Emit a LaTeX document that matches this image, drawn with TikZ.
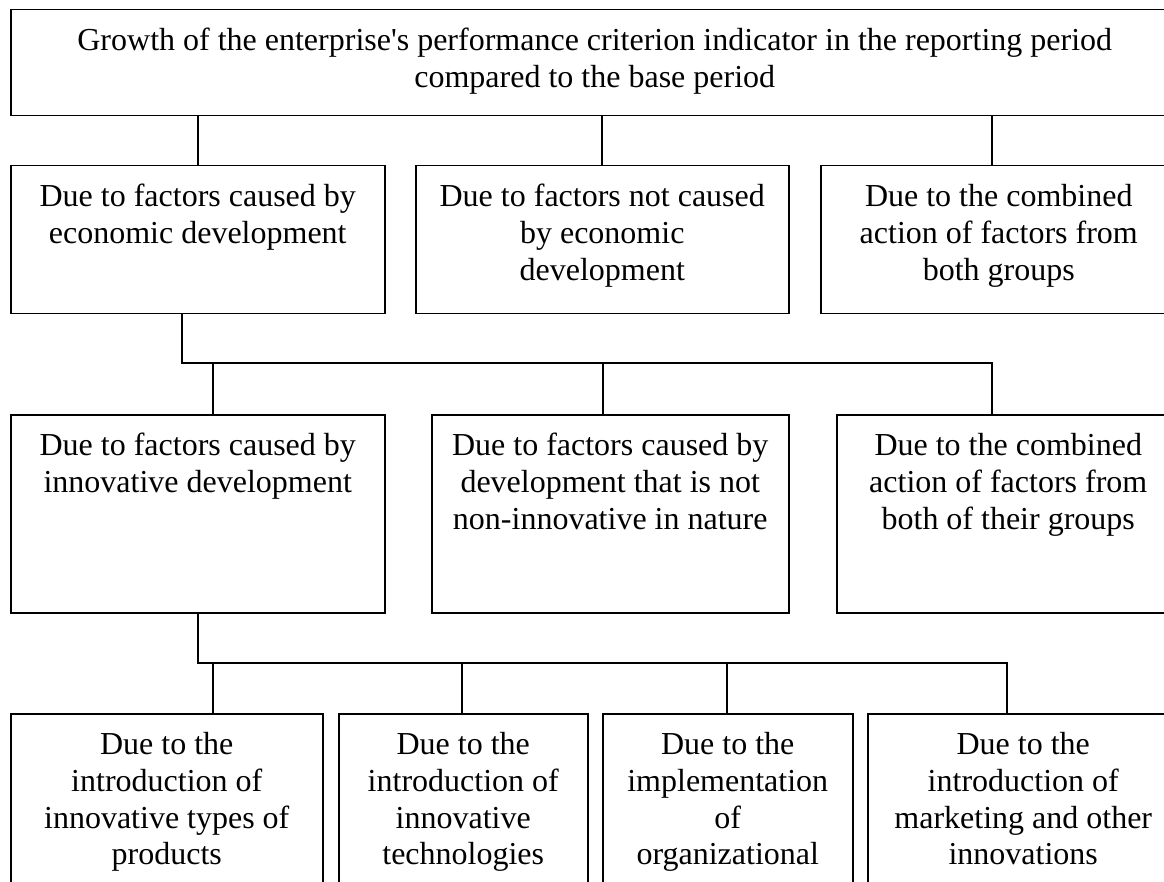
\documentclass[tikz,border=0pt]{standalone}
\usepackage{fontspec}
\setmainfont{Liberation Serif}
\tikzset{
  boxstyle/.style={draw, line width=1.5pt, inner sep=0pt, anchor=north west},
  link/.style={line width=1.5pt},
}
\newcommand\boxtext[3]{\parbox[c][#2pt][t]{#1pt}{\centering\fontsize{32}{36.7}\selectfont\rule{0pt}{41pt}#3\par}}
\begin{document}
\begin{tikzpicture}[x=1pt,y=-1pt]
\useasboundingbox (0,0) rectangle (1164,882);
\clip (0,0) rectangle (1164,882);
% top
\node[boxstyle] (top) at (10,9) {\boxtext{1168}{106}{Growth of the enterprise\textquotesingle s performance criterion indicator in the reporting period\\compared to the base period}};
% row 2
\node[boxstyle] (b1) at (10,165) {\boxtext{374}{148}{Due to factors caused by\\economic development}};
\node[boxstyle] (b2) at (415,165) {\boxtext{373}{148}{Due to factors not caused\\by economic\\development}};
\node[boxstyle] (b3) at (820,165) {\boxtext{356}{148}{Due to the combined\\action of factors from\\both groups}};
% row 3
\node[boxstyle] (c1) at (10,414) {\boxtext{374}{198}{Due to factors caused by\\innovative development}};
\node[boxstyle] (c2) at (431,414) {\boxtext{357}{198}{Due to factors caused by\\development that is not\\non-innovative in nature}};
\node[boxstyle] (c3) at (836,414) {\boxtext{343}{198}{Due to the combined\\action of factors from\\both of their groups}};
% row 4
\node[boxstyle] (d1) at (10,713) {\boxtext{312}{200}{Due to the\\introduction of\\innovative types of\\products}};
\node[boxstyle] (d2) at (338,713) {\boxtext{249}{200}{Due to the\\introduction of\\innovative\\technologies}};
\node[boxstyle] (d3) at (602,713) {\boxtext{250}{200}{Due to the\\implementation\\of\\organizational}};
\node[boxstyle] (d4) at (867,713) {\boxtext{311}{200}{Due to the\\introduction of\\marketing and other\\innovations}};
% connectors top -> row 2
\coordinate (v1) at (198,0);
\coordinate (v2) at (602,0);
\coordinate (v3) at (992,0);
\draw[link] (top.south -| v1) -- (b1.north -| v1);
\draw[link] (top.south -| v2) -- (b2.north -| v2);
\draw[link] (top.south -| v3) -- (b3.north -| v3);
% row 2 -> row 3
\coordinate (s1) at (182,363);
\coordinate (e1) at (992,363);
\coordinate (p1) at (213,363);
\coordinate (p2) at (603,363);
\draw[link] (b1.south -| s1) -- (s1) -- (e1) -- (c3.north -| e1);
\draw[link] (p1) -- (c1.north -| p1);
\draw[link] (p2) -- (c2.north -| p2);
% row 3 -> row 4
\coordinate (s2) at (198,663);
\coordinate (e2) at (1007,663);
\coordinate (q1) at (213,663);
\coordinate (q2) at (462,663);
\coordinate (q3) at (727,663);
\draw[link] (c1.south -| s2) -- (s2) -- (e2) -- (d4.north -| e2);
\draw[link] (q1) -- (d1.north -| q1);
\draw[link] (q2) -- (d2.north -| q2);
\draw[link] (q3) -- (d3.north -| q3);
\end{tikzpicture}
\end{document}
